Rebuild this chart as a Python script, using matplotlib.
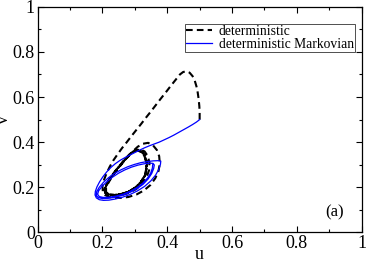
import numpy as np
import matplotlib.pyplot as plt
from matplotlib.ticker import MultipleLocator

plt.rcParams['font.family'] = 'Liberation Serif'

# deterministic trajectory (u, v)
det_u = [0.500, 0.500, 0.499, 0.497, 0.494, 0.490, 0.485, 0.478, 0.469, 0.459,
         0.449, 0.439, 0.425, 0.410, 0.395, 0.380, 0.365, 0.350, 0.335, 0.320,
         0.305, 0.290, 0.275, 0.260, 0.246, 0.233, 0.222, 0.212, 0.204, 0.200,
         0.201, 0.208, 0.220, 0.237, 0.258, 0.280, 0.305, 0.328, 0.348, 0.363,
         0.373, 0.377, 0.375, 0.368, 0.356, 0.341, 0.325, 0.309, 0.294,
         0.278, 0.262, 0.246, 0.231, 0.219, 0.211, 0.211, 0.220, 0.236, 0.258,
         0.282, 0.304, 0.322, 0.336, 0.344, 0.345, 0.340, 0.330, 0.316, 0.301,
         0.286,
         0.270, 0.254, 0.238, 0.224, 0.213, 0.207, 0.209, 0.219, 0.236, 0.258,
         0.280, 0.300, 0.317, 0.329, 0.335, 0.335, 0.330, 0.320, 0.307, 0.293,
         0.279, 0.264, 0.248, 0.233, 0.220, 0.211, 0.206, 0.209, 0.219, 0.237,
         0.259, 0.281, 0.301, 0.318, 0.330, 0.336, 0.336, 0.331, 0.321, 0.308,
         0.294, 0.280, 0.265, 0.249, 0.234, 0.221, 0.212, 0.207, 0.210, 0.220,
         0.238, 0.260, 0.282, 0.302, 0.319, 0.331, 0.337, 0.337, 0.332, 0.322,
         0.309]
det_v = [0.500, 0.530, 0.560, 0.590, 0.620, 0.648, 0.672, 0.693, 0.708, 0.714,
         0.711, 0.700, 0.675, 0.648, 0.620, 0.593, 0.565, 0.537, 0.510, 0.482,
         0.455, 0.428, 0.400, 0.373, 0.345, 0.318, 0.290, 0.260, 0.230, 0.205,
         0.182, 0.166, 0.157, 0.153, 0.153, 0.157, 0.168, 0.186, 0.210, 0.240,
         0.272, 0.305, 0.338, 0.365, 0.386, 0.397, 0.393, 0.380, 0.360,
         0.336, 0.308, 0.279, 0.250, 0.222, 0.197, 0.179, 0.168, 0.163, 0.165,
         0.175, 0.192, 0.215, 0.244, 0.276, 0.309, 0.338, 0.359, 0.369, 0.363,
         0.346,
         0.322, 0.295, 0.267, 0.239, 0.213, 0.190, 0.175, 0.167, 0.165, 0.169,
         0.180, 0.197, 0.220, 0.248, 0.279, 0.310, 0.337, 0.356, 0.364, 0.357,
         0.340, 0.315, 0.288, 0.260, 0.233, 0.209, 0.188, 0.174, 0.167, 0.166,
         0.170, 0.181, 0.198, 0.222, 0.250, 0.281, 0.312, 0.338, 0.357, 0.365,
         0.358, 0.341, 0.316, 0.289, 0.261, 0.234, 0.209, 0.189, 0.175, 0.168,
         0.166, 0.171, 0.182, 0.199, 0.223, 0.251, 0.282, 0.313, 0.339, 0.358,
         0.366]

# deterministic Markovian trajectory
mar_u = [0.500, 0.490, 0.478, 0.465, 0.450, 0.435, 0.420, 0.405, 0.390, 0.375,
         0.360, 0.345, 0.330, 0.315, 0.300, 0.285, 0.270, 0.255, 0.240, 0.226,
         0.213, 0.201, 0.191, 0.183, 0.178, 0.177, 0.181, 0.190, 0.203, 0.220,
         0.240, 0.262, 0.285, 0.308, 0.330, 0.349, 0.364, 0.374, 0.379, 0.380,
         0.372, 0.356, 0.338, 0.318, 0.298, 0.278, 0.258, 0.238, 0.219, 0.203,
         0.190, 0.182, 0.181, 0.187, 0.200, 0.218, 0.240, 0.263, 0.286, 0.307,
         0.326, 0.341, 0.352, 0.358, 0.360, 0.356, 0.345, 0.328, 0.309, 0.289,
         0.269, 0.249, 0.230, 0.213, 0.198, 0.188, 0.185, 0.190, 0.202, 0.220,
         0.242, 0.265, 0.287, 0.307, 0.325, 0.339, 0.349, 0.354, 0.355]
mar_v = [0.500, 0.489, 0.478, 0.467, 0.455, 0.443, 0.431, 0.420, 0.410, 0.400,
         0.392, 0.384, 0.375, 0.365, 0.354, 0.343, 0.332, 0.320, 0.305, 0.288,
         0.268, 0.246, 0.224, 0.202, 0.182, 0.166, 0.153, 0.145, 0.142, 0.143,
         0.148, 0.156, 0.168, 0.184, 0.204, 0.228, 0.254, 0.280, 0.302, 0.316,
         0.318, 0.317, 0.314, 0.309, 0.301, 0.291, 0.278, 0.262, 0.243, 0.222,
         0.200, 0.180, 0.164, 0.154, 0.150, 0.151, 0.156, 0.165, 0.178, 0.194,
         0.214, 0.237, 0.261, 0.283, 0.299, 0.306, 0.307, 0.304, 0.298, 0.289,
         0.277, 0.262, 0.244, 0.224, 0.203, 0.184, 0.169, 0.159, 0.155, 0.156,
         0.161, 0.170, 0.183, 0.199, 0.219, 0.241, 0.264, 0.285, 0.300]

tick_vals = [0, 0.2, 0.4, 0.6, 0.8, 1]
tick_text = ['0', '0.2', '0.4', '0.6', '0.8', '1']

fig = plt.figure(figsize=(3.66, 2.62), dpi=100)
ax = fig.add_axes([0.103, 0.113, 0.885, 0.861])

ax.plot(det_u, det_v, color='k', lw=1.5, dashes=(3.2, 2.0), label='deterministic')
ax.plot(mar_u, mar_v, color='#0000ff', lw=0.9, label='deterministic Markovian')

ax.set_xlim(0, 1)
ax.set_ylim(0, 1)
ax.set_xticks(tick_vals)
ax.set_yticks(tick_vals)
ax.set_xticklabels(tick_text)
ax.set_yticklabels(tick_text)
ax.xaxis.set_minor_locator(MultipleLocator(0.1))
ax.yaxis.set_minor_locator(MultipleLocator(0.1))
ax.tick_params(which='both', direction='in', top=True, right=True, labelsize=13, pad=2)
ax.tick_params(which='major', length=4.5, width=0.8)
ax.tick_params(which='minor', length=2.5, width=0.8)
for s in ax.spines.values():
    s.set_linewidth(0.9)

ax.set_xlabel('u', fontsize=13)
ax.xaxis.set_label_coords(0.5, -0.062)
ax.set_ylabel('v', fontsize=13)
ax.yaxis.set_label_coords(-0.079, 0.5)

ax.text(0.915, 0.09, '(a)', fontsize=12, ha='center', va='center')

leg = ax.legend(loc='upper right', bbox_to_anchor=(0.979, 0.926), fontsize=9.8,
                frameon=True, fancybox=False, edgecolor='k', handlelength=1.9,
                handletextpad=0.5, borderpad=0.08, labelspacing=0.0, borderaxespad=0)
leg.get_frame().set_linewidth(0.6)

fig.savefig('out.png', dpi=100)
